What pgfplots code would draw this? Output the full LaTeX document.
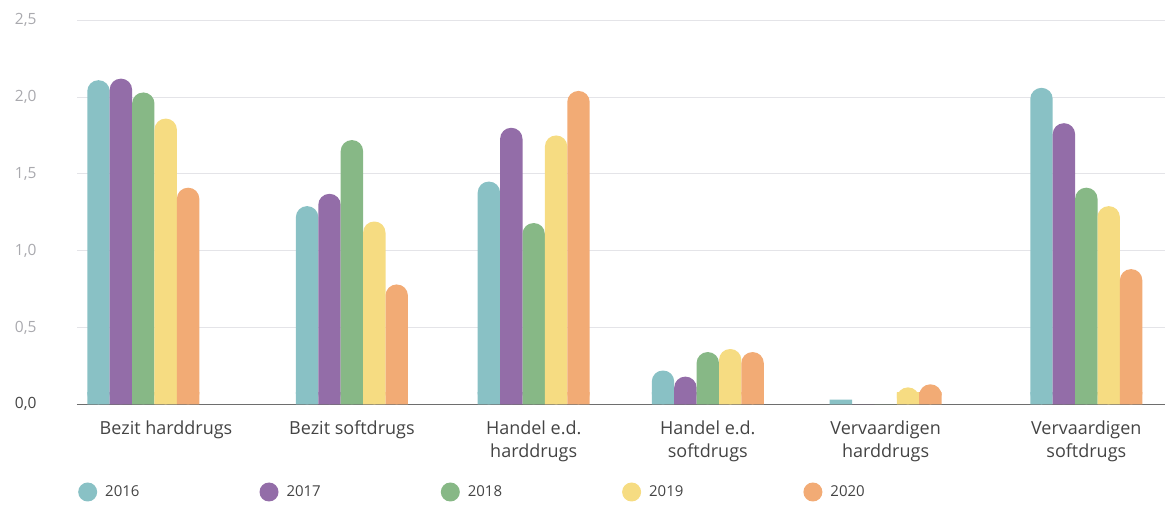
\documentclass[border=0pt]{standalone}
\usepackage{fontspec}
\setmainfont{Open Sans}
\usepackage{pgfplots}
\usepackage{pgfplotstable}
\pgfplotsset{compat=1.18}
\definecolor{c16}{HTML}{89C1C5}
\definecolor{c17}{HTML}{936DA8}
\definecolor{c18}{HTML}{87B886}
\definecolor{c19}{HTML}{F6DC82}
\definecolor{c20}{HTML}{F2AB75}
\definecolor{gridc}{HTML}{E4E4E8}
\definecolor{axc}{HTML}{6E6E6E}
\definecolor{tickc}{HTML}{A9A9AE}
\definecolor{labc}{HTML}{444444}
\pgfplotstableread{
x y16 y17 y18 y19 y20
143.3 2.11 2.12 2.03 1.86 1.41
351.9 1.29 1.37 1.72 1.19 0.78
533.7 1.45 1.80 1.18 1.75 2.04
707.8 0.22 0.18 0.34 0.36 0.34
885.6 0.03 0 0 0.11 0.13
1086.3 2.06 1.83 1.41 1.29 0.88
}\data
\begin{document}
\begin{tikzpicture}
\begin{axis}[
  name=ax,
  scale only axis, width=1088pt, height=384pt,
  xmin=77, xmax=1165, ymin=0, ymax=2.5,
  axis x line*=bottom, axis y line*=left,
  x axis line style={draw=axc, line width=1.4pt},
  y axis line style={draw=none},
  xtick style={draw=none}, ytick style={draw=none},
  ymajorgrids, grid style={draw=gridc, line width=1pt},
  ytick={0,0.5,1,1.5,2,2.5},
  yticklabels={{\textcolor{labc}{0,0}},{0,5},{1,0},{1,5},{2,0},{2,5}},
  yticklabel style={font=\fontsize{15.5}{16}\selectfont, text=tickc, anchor=east, xshift=-37pt},
  xtick={166,351.9,533.7,707.8,885.6,1086.3},
  xticklabels={Bezit harddrugs, Bezit softdrugs, {Handel e.d.\\harddrugs}, {Handel e.d.\\softdrugs}, {Vervaardigen\\harddrugs}, {Vervaardigen\\softdrugs}},
  xticklabel style={font=\fontsize{18}{23}\selectfont, text=labc, align=center, anchor=north, yshift=-13pt},
  legend style={draw=none, fill=none, legend columns=5, at={(axis description cs:0,0)}, anchor=north west, xshift=-2pt, yshift=-76pt, font=\fontsize{15}{15}\selectfont, text=labc,
    /tikz/every odd column/.append style={column sep=6pt},
    /tikz/every even column/.append style={column sep=118pt}},
  legend image code/.code={\fill (9.5pt,0pt) circle (9.5pt);},
  clip=false,
]
\addplot[ybar, bar width=22.4pt, bar shift=-44.8pt, fill=c16, draw=none, rounded corners=11pt, restrict y to domain=0.1:3] table[x=x,y=y16]{\data};
\addlegendentry{2016}
\addplot[ybar, bar width=22.4pt, bar shift=-22.4pt, fill=c17, draw=none, rounded corners=11pt, restrict y to domain=0.1:3] table[x=x,y=y17]{\data};
\addlegendentry{2017}
\addplot[ybar, bar width=22.4pt, bar shift=0pt, fill=c18, draw=none, rounded corners=11pt, restrict y to domain=0.1:3] table[x=x,y=y18]{\data};
\addlegendentry{2018}
\addplot[ybar, bar width=22.4pt, bar shift=22.4pt, fill=c19, draw=none, rounded corners=11pt, restrict y to domain=0.1:3] table[x=x,y=y19]{\data};
\addlegendentry{2019}
\addplot[ybar, bar width=22.4pt, bar shift=44.8pt, fill=c20, draw=none, rounded corners=11pt, restrict y to domain=0.1:3] table[x=x,y=y20]{\data};
\addlegendentry{2020}
\addplot[ybar, bar width=22.4pt, bar shift=-44.8pt, fill=c16, draw=none, forget plot, y filter/.expression={min(y,0.08)}] table[x=x,y=y16]{\data};
\addplot[ybar, bar width=22.4pt, bar shift=-22.4pt, fill=c17, draw=none, forget plot, y filter/.expression={min(y,0.08)}] table[x=x,y=y17]{\data};
\addplot[ybar, bar width=22.4pt, bar shift=0pt, fill=c18, draw=none, forget plot, y filter/.expression={min(y,0.08)}] table[x=x,y=y18]{\data};
\addplot[ybar, bar width=22.4pt, bar shift=22.4pt, fill=c19, draw=none, forget plot, y filter/.expression={min(y,0.08)}] table[x=x,y=y19]{\data};
\addplot[ybar, bar width=22.4pt, bar shift=44.8pt, fill=c20, draw=none, forget plot, y filter/.expression={min(y,0.08)}] table[x=x,y=y20]{\data};
\end{axis}
\pgfresetboundingbox
\path ([xshift=-77pt,yshift=-103.7pt]ax.south west) rectangle ([yshift=20.3pt]ax.north east);
\end{tikzpicture}
\end{document}
